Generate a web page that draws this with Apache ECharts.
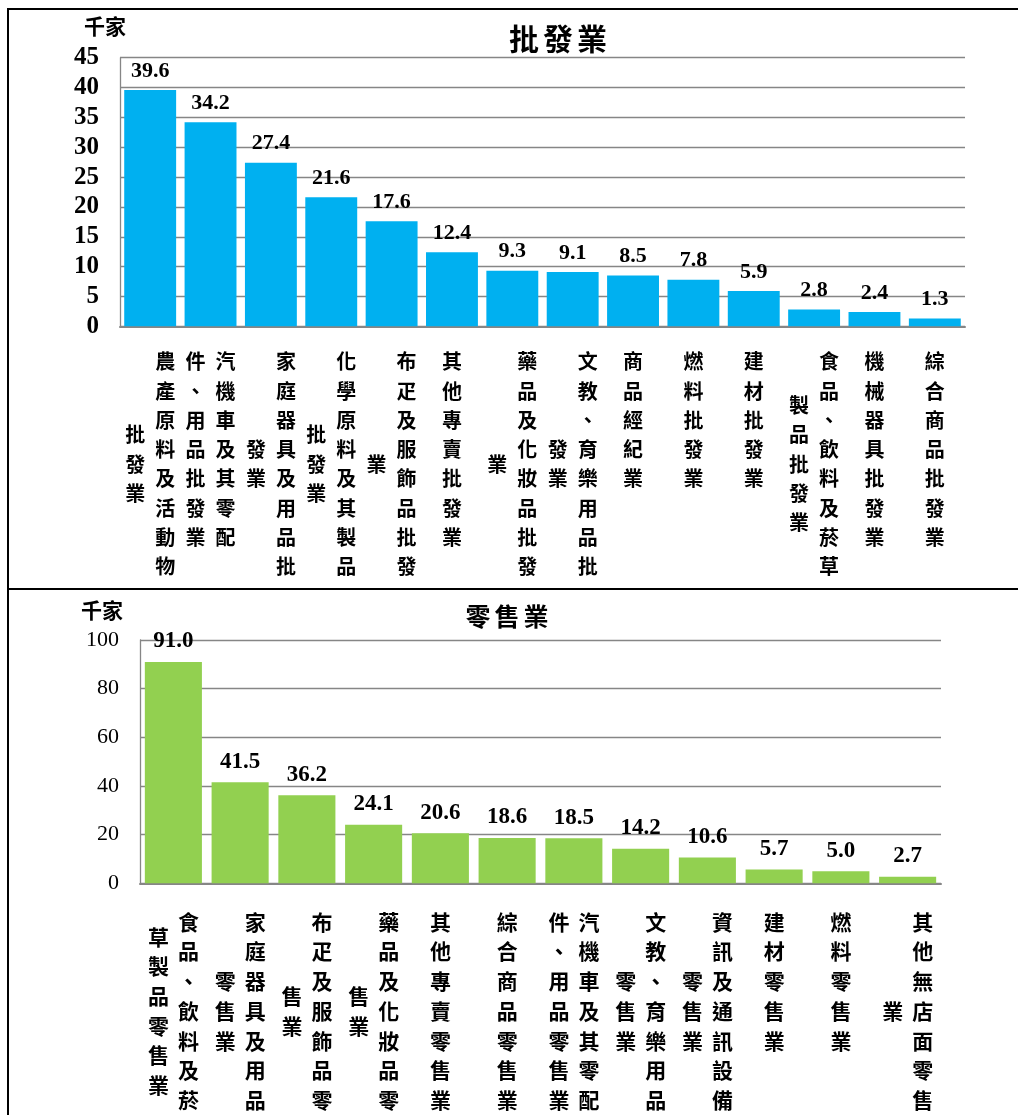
<!DOCTYPE html>
<html>
<head>
<meta charset="utf-8">
<script src="https://cdn.jsdelivr.net/npm/echarts@6/dist/echarts.min.js"></script>
<style>
html,body{margin:0;padding:0;background:#fff;overflow:hidden;width:1018px;height:1115px;}
#chart{position:absolute;left:0;top:0;width:1018px;height:1115px;}
.frame{position:absolute;border:2px solid #000;pointer-events:none;box-sizing:border-box;}
</style>
</head>
<body>
<div id="chart"></div>
<div class="frame" style="left:7px;top:8px;width:1100px;height:582px;"></div>
<div class="frame" style="left:7px;top:588px;width:1100px;height:600px;"></div>
<script>
// ---- data ----
const wholesaleTitle = '批發業';
const retailTitle = '零售業';
const unitLabel = '千家';
// "\n" marks where the vertical label wraps into the next (left) column
const wholesaleCats = [
  '農產原料及活動物\n批發業',
  '汽機車及其零配\n件、用品批發業',
  '家庭器具及用品批\n發業',
  '化學原料及其製品\n批發業',
  '布疋及服飾品批發\n業',
  '其他專賣批發業',
  '藥品及化妝品批發\n業',
  '文教、育樂用品批\n發業',
  '商品經紀業',
  '燃料批發業',
  '建材批發業',
  '食品、飲料及菸草\n製品批發業',
  '機械器具批發業',
  '綜合商品批發業'
];
const wholesaleVals = [39.6, 34.2, 27.4, 21.6, 17.6, 12.4, 9.3, 9.1, 8.5, 7.8, 5.9, 2.8, 2.4, 1.3];
const retailCats = [
  '食品、飲料及菸\n草製品零售業',
  '家庭器具及用品\n零售業',
  '布疋及服飾品零\n售業',
  '藥品及化妝品零\n售業',
  '其他專賣零售業',
  '綜合商品零售業',
  '汽機車及其零配\n件、用品零售業',
  '文教、育樂用品\n零售業',
  '資訊及通訊設備\n零售業',
  '建材零售業',
  '燃料零售業',
  '其他無店面零售\n業'
];
const retailVals = [91.0, 41.5, 36.2, 24.1, 20.6, 18.6, 18.5, 14.2, 10.6, 5.7, 5.0, 2.7];
const wholesaleTicks = {min: 0, max: 45, interval: 5};
const retailTicks = {min: 0, max: 100, interval: 20};

// ---- helpers ----
const CJK = '"Noto Sans CJK TC","Noto Sans CJK SC",sans-serif';
const SERIF = '"Liberation Serif","Times New Roman",serif';

function verticalLabel(text) {
  const cols = text.split('\n').map(s => Array.from(s));
  const rows = Math.max.apply(null, cols.map(c => c.length));
  const n = rows * 2 - 1;
  const lines = [];
  if (cols.length === 1) {
    for (let h = 0; h < n; h++) {
      const ch = (h % 2 === 0) ? cols[0][h / 2] : ' ';
      lines.push('{c|' + (ch || ' ') + '}');
    }
  } else {
    const off = cols[0].length - cols[1].length;
    const total = Math.max(n, (cols[1].length * 2 - 1) + off);
    for (let h = 0; h < total; h++) {
      const R = (h % 2 === 0 && cols[0][h / 2]) ? cols[0][h / 2] : ' ';
      const k = h - off;
      const L = (k >= 0 && k % 2 === 0 && cols[1][k / 2]) ? cols[1][k / 2] : ' ';
      lines.push('{l|' + L + '}{r|' + R + '}');
    }
  }
  return lines.join('\n');
}
function richFor(fs, lh) {
  const base = {fontSize: fs, fontWeight: 'bold', fontFamily: CJK, color: '#000', width: 30, align: 'center', lineHeight: lh, height: lh};
  return {c: Object.assign({}, base), l: Object.assign({}, base), r: Object.assign({}, base)};
}
function spaced(text) {
  return Array.from(text).map(ch => '{t|' + ch + '}').join('');
}

const chart = echarts.init(document.getElementById('chart'), null, {renderer: 'canvas'});
const grid0 = {left: 120, right: 1018 - 965, top: 57.7, height: 268.6};
const grid1 = {left: 140, right: 1018 - 941, top: 640, height: 243.3};

const option = {
  animation: false,
  backgroundColor: '#fff',
  title: [
    {text: spaced(wholesaleTitle), left: 553, top: 19, textAlign: 'center',
     textStyle: {rich: {t: {fontSize: 30, fontWeight: 'bold', fontFamily: CJK, color: '#000', width: 34, align: 'center'}}}},
    {text: spaced(retailTitle), left: 502, top: 599, textAlign: 'center',
     textStyle: {rich: {t: {fontSize: 25, fontWeight: 'bold', fontFamily: CJK, color: '#000', width: 29, align: 'center'}}}}
  ],
  grid: [
    Object.assign({containLabel: false}, grid0),
    Object.assign({containLabel: false}, grid1)
  ],
  xAxis: [
    {type: 'category', gridIndex: 0, data: wholesaleCats,
     axisLine: {lineStyle: {color: '#868686', width: 2}}, axisTick: {show: false},
     axisLabel: {interval: 0, margin: 28, formatter: verticalLabel, rich: richFor(20, 14.65)}},
    {type: 'category', gridIndex: 1, data: retailCats,
     axisLine: {lineStyle: {color: '#868686', width: 2}}, axisTick: {show: false},
     axisLabel: {interval: 0, margin: 31, formatter: verticalLabel, rich: richFor(21, 14.85)}}
  ],
  yAxis: [
    {type: 'value', gridIndex: 0, min: wholesaleTicks.min, max: wholesaleTicks.max, interval: wholesaleTicks.interval,
     name: unitLabel, nameLocation: 'end', nameGap: 21,
     nameTextStyle: {fontSize: 21, fontWeight: 'bold', fontFamily: CJK, color: '#000', padding: [0, 30, 0, 0]},
     axisLine: {show: true, lineStyle: {color: '#868686', width: 1.3}}, axisTick: {show: false},
     splitLine: {lineStyle: {color: '#868686', width: 1.3}},
     axisLabel: {margin: 21, fontSize: 25, fontWeight: 'bold', fontFamily: SERIF, color: '#000'}},
    {type: 'value', gridIndex: 1, min: retailTicks.min, max: retailTicks.max, interval: retailTicks.interval,
     name: unitLabel, nameLocation: 'end', nameGap: 19,
     nameTextStyle: {fontSize: 21, fontWeight: 'bold', fontFamily: CJK, color: '#000', padding: [0, 76, 0, 0]},
     axisLine: {show: true, lineStyle: {color: '#868686', width: 1.3}}, axisTick: {show: false},
     splitLine: {lineStyle: {color: '#868686', width: 1.3}},
     axisLabel: {margin: 21, fontSize: 22, fontWeight: 'normal', fontFamily: SERIF, color: '#000'}}
  ],
  series: [
    {type: 'bar', xAxisIndex: 0, yAxisIndex: 0, data: wholesaleVals, barCategoryGap: '14%',
     itemStyle: {color: '#00B0F0'},
     label: {show: true, position: 'top', distance: 8, formatter: p => p.value.toFixed(1),
             fontSize: 22, fontWeight: 'bold', fontFamily: SERIF, color: '#000'}},
    {type: 'bar', xAxisIndex: 1, yAxisIndex: 1, data: retailVals, barCategoryGap: '14.5%',
     itemStyle: {color: '#92D050'},
     label: {show: true, position: 'top', distance: 9, formatter: p => p.value.toFixed(1),
             fontSize: 23, fontWeight: 'bold', fontFamily: SERIF, color: '#000'}}
  ]
};
chart.setOption(option);
</script>
</body>
</html>
